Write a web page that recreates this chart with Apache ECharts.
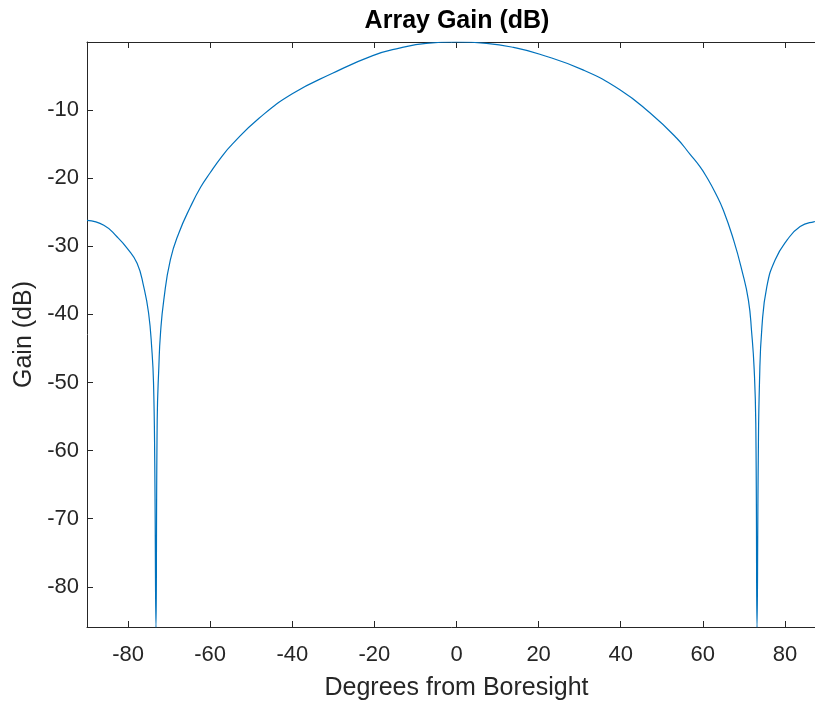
<!DOCTYPE html>
<html>
<head>
<meta charset="utf-8">
<script src="https://cdn.jsdelivr.net/npm/echarts@6/dist/echarts.min.js"></script>
<style>
html,body{margin:0;padding:0;background:#fff;}
#chart{width:815px;height:702px;}
</style>
</head>
<body>
<div id="chart"></div>
<script>
// Degrees from boresight
const angles = [-90,-85.9,-82.7,-80.2,-77.8,-76.2,-75.0,-74.2,-73.8,-73.5,-73.2,-72.9,-72.5,-72.1,-71.3,-69.7,-67.6,-64.8,-62.3,-60.0,-57.4,-54.6,-48.1,-40.0,-30.2,-20.4,-13.9,-7.4,0,7.3,13.9,20.3,30.8,39.8,47.1,53.6,56.9,59.3,61.0,63.0,65.0,67.5,69.5,71.1,71.9,72.5,72.9,73.2,73.5,73.8,74.4,75.6,77.6,80.5,83.7,87.0,90];
// Gain in dB
const gains = [-26.2,-26.9,-28.6,-30.3,-32.5,-35.9,-39.8,-45.2,-50,-61.5,-86,-55.5,-47.7,-42.8,-37.9,-32,-28,-24.2,-21.3,-19.2,-17.0,-15.0,-11.2,-7.6,-4.6,-2.0,-0.9,-0.2,0,-0.2,-0.8,-1.8,-4.1,-7.0,-10.4,-14.1,-16.5,-18.3,-19.9,-22.1,-24.7,-29.1,-33.5,-37.9,-42.7,-48,-56,-86,-61.5,-50,-41.8,-35.9,-32,-29.1,-27.1,-26.4,-26.2];
const xTicks = [-80,-60,-40,-20,0,20,40,60,80];
const yTicks = [-80,-70,-60,-50,-40,-30,-20,-10];

const axisColor = '#262626';
const chart = echarts.init(document.getElementById('chart'), null, {renderer:'canvas'});
const font = 'Liberation Sans, Arial, Helvetica, sans-serif';
chart.setOption({
  backgroundColor:'#fff',
  animation:false,
  title:{
    text:'Array Gain (dB)', left:457, top:9, textAlign:'center', padding:0,
    textStyle:{fontFamily:font, fontSize:25, fontWeight:'bold', color:'#000'}
  },
  grid:{left:87, top:42, width:739, height:585, containLabel:false, outerBoundsMode:'none'},
  xAxis:[{
    type:'value', min:-90, max:90, position:'bottom',
    name:'Degrees from Boresight', nameLocation:'middle', nameGap:49,
    nameTextStyle:{fontFamily:font, fontSize:25, color:axisColor},
    axisLine:{show:true, onZero:false, lineStyle:{color:axisColor, width:1}},
    axisTick:{show:true, inside:true, length:6, customValues:xTicks, lineStyle:{color:axisColor}},
    axisLabel:{show:true, customValues:xTicks, margin:17, fontFamily:font, fontSize:22, color:axisColor},
    splitLine:{show:false}
  },{
    type:'value', min:-90, max:90, position:'top',
    axisLine:{show:true, onZero:false, lineStyle:{color:axisColor, width:1}},
    axisTick:{show:true, inside:true, length:6, customValues:xTicks, lineStyle:{color:axisColor}},
    axisLabel:{show:false},
    splitLine:{show:false}
  }],
  yAxis:[{
    type:'value', min:-85.9, max:0, position:'left',
    name:'Gain (dB)', nameLocation:'middle', nameGap:47, nameRotate:90,
    nameTextStyle:{fontFamily:font, fontSize:25, color:axisColor},
    axisLine:{show:true, onZero:false, lineStyle:{color:axisColor, width:1}},
    axisTick:{show:true, inside:true, length:6, customValues:yTicks, lineStyle:{color:axisColor}},
    axisLabel:{show:true, customValues:yTicks, margin:8, fontFamily:font, fontSize:22, color:axisColor},
    splitLine:{show:false}
  }],
  series:[{
    type:'line', xAxisIndex:0, yAxisIndex:0,
    data: angles.map((a,i)=>[a, gains[i]]),
    showSymbol:false, smooth:0.5,
    lineStyle:{color:'#0072BD', width:1.2},
    itemStyle:{color:'#0072BD'}
  }]
});
</script>
</body>
</html>
